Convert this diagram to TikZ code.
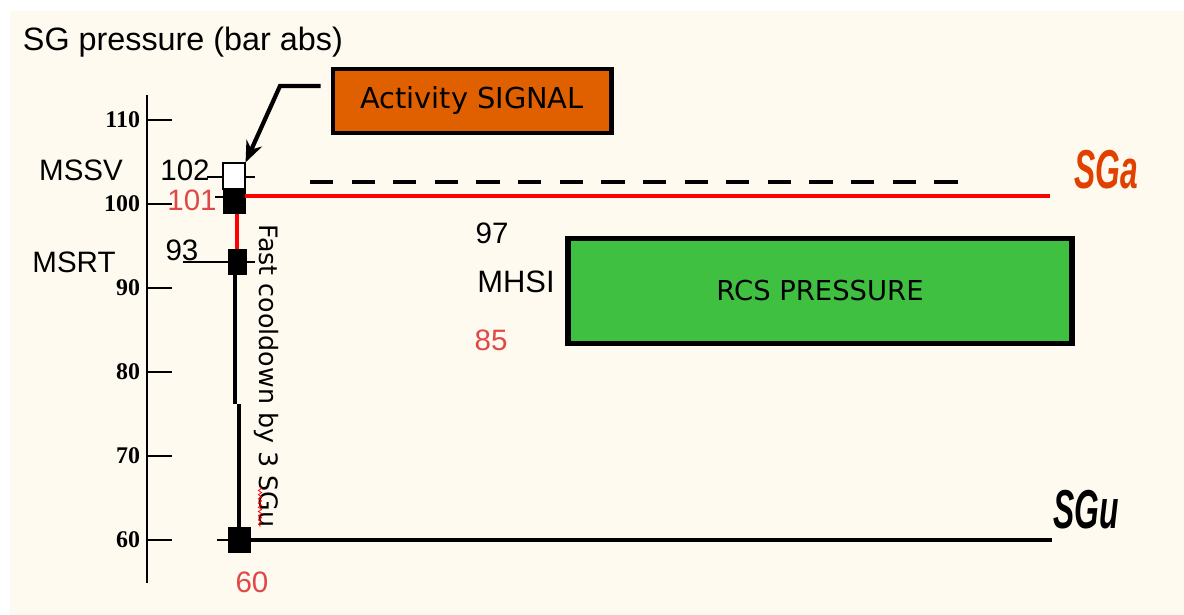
\documentclass[tikz,border=0pt]{standalone}
\usepackage{fontspec}
\setmainfont{Liberation Sans}
\newfontfamily\boxfont{DejaVu Sans}
\newfontfamily\serfont{Liberation Serif}
\usetikzlibrary{arrows.meta,decorations.pathmorphing}
\definecolor{cream}{HTML}{FEFAEF}
\definecolor{lred}{HTML}{E04848}
\definecolor{sigorange}{HTML}{E06000}
\definecolor{rcsgreen}{HTML}{40C040}
\definecolor{sgared}{HTML}{E04000}
\newcommand\fs[1]{\fontsize{#1}{#1}\selectfont}

\begin{document}
\begin{tikzpicture}[x=0.025cm, y=-0.025cm,
	lab/.style = {font=\fs{21}},
	val/.style = {font=\fs{17}\serfont\bfseries, anchor=east},
	sq/.style = {draw, fill=black, inner sep=0, minimum width=0.55cm, minimum height=0.62cm},
	sqw/.style = {draw, line width=0.8pt, fill=white, inner sep=0, minimum width=0.55cm, minimum height=0.65cm},
	thick line/.style = {line width=3.5pt},
	sglab/.style = {font=\fs{39}\bfseries\itshape, xscale=0.58}]
	\useasboundingbox (0,0) rectangle (1184,615);
	\fill[cream] (10,11) rectangle (1184,615);

	\node[anchor=west, font=\fs{23}] (title) at (18,42) {SG pressure (bar abs)};

	% axis
	\draw[line width=1.5pt] (147,95) -- (147,583);
	\foreach \v in {60,70,...,110}{
		\draw[line width=1.4pt] (147,540-8.4*\v+504) -- (172,540-8.4*\v+504);
		\node[val] at (145,540-8.4*\v+504) {\v};
	}

	\node[sqw] (s102) at (234,176) {};
	\node[sq] (s101) at (234,201) {};
	\node[sq, minimum width=0.45cm] (s93) at (237,262) {};
	\node[sq] (s60) at (239,540) {};

	\draw[line width=1pt] (207,177) -- (s102.west |- 0,177);
	\draw[line width=1pt] (s102.east |- 0,177) -- (255,177);
	\draw[line width=1pt] (215,197) -- (s101.west |- 0,197);
	\draw[line width=1pt] (183,262) -- (255,262);
	\draw[line width=1pt] (217,540) -- (s60.west);

	\coordinate (sga) at (1050,196);
	\coordinate (sgu) at (1052,540);
	\coordinate (kink) at (235,404);
	\draw[thick line, red] (s101.east |- sga) -- (sga);
	\draw[thick line, red] (s93.north |- s101.south) -- (s93.north);
	\draw[thick line] (s93.south -| kink) -- (kink);
	\draw[thick line] (kink -| s60.north) -- (s60.north);
	\draw[thick line] (s60.east) -- (sgu);
	\draw[thick line, dash pattern=on 16.5pt off 13.1pt] (310,182) -- (966,182);

	\node[lab] (mssv) at (81,170) {MSSV};
	\node[lab] (n102) at (185,170) {102};
	\node[lab, text=lred] (n101) at (192,200) {101};
	\node[lab] (msrt) at (74,262) {MSRT};
	\node[lab] (n93) at (182,250) {93};
	\node[lab, text=lred] (n60) at (252,582) {60};
	\node[lab] (n97) at (492,233) {97};
	\node[lab, font=\fs{22}] (mhsi) at (516,282) {MHSI};
	\node[lab, text=lred] (n85) at (491,340) {85};

	\node[draw, line width=3.5pt, fill=sigorange, minimum width=6.95cm, minimum height=1.6cm,
		font=\fs{20.5}\boxfont] (act) at (472,101) {Activity SIGNAL\hspace{0.75cm}};
	\coordinate (bend) at (280,86);
	\draw[line width=3pt, -{Stealth[length=15pt,width=12pt]}, shorten <=7pt]
		(act.west |- bend) -- (bend) -- (s102.north east);

	\node[draw, line width=4pt, fill=rcsgreen, minimum width=12.6cm, minimum height=2.62cm,
		font=\fs{19.5}\boxfont] (rcs) at (820,291) {RCS PRESSURE};

	\node[rotate=-90, font=\fs{18}\boxfont] (fast) at (266,376) {Fast cooldown by 3 SGu};
	\draw[red, line width=0.5pt, decorate, decoration={snake, amplitude=1.2pt, segment length=3pt}]
		(260,487) -- (260,527);

	\node[sglab, text=sgared] (sgalab) at (1106,170) {SGa};
	\node[sglab] (sgulab) at (1086,510) {SGu};
\end{tikzpicture}
\end{document}
